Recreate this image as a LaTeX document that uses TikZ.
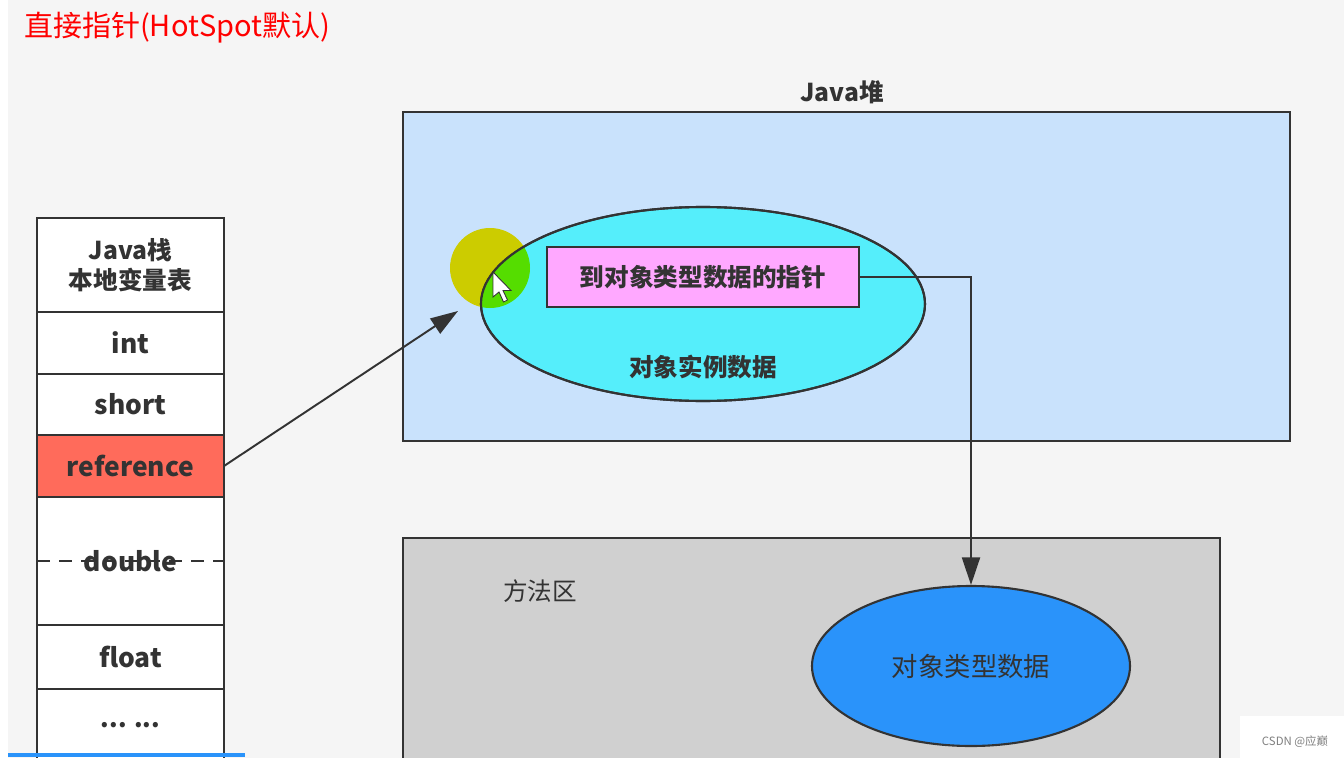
\documentclass[tikz,border=0pt]{standalone}
\usepackage{fontspec}
\setmainfont{Noto Sans CJK SC}
\usepackage{tikz}
\usetikzlibrary{positioning}
\usetikzlibrary{arrows.meta}
\usetikzlibrary{shapes.geometric}
\usepackage{xcolor}

\definecolor{bgcol}{HTML}{F5F5F5}
\definecolor{heapcol}{HTML}{C9E2FC}
\definecolor{objcol}{HTML}{55EEFB}
\definecolor{ptrcol}{HTML}{FFA8FF}
\definecolor{refcol}{HTML}{FF6B5B}
\definecolor{methcol}{HTML}{D0D0D0}
\definecolor{klasscol}{HTML}{2A93FA}
\definecolor{ink}{HTML}{333333}
\definecolor{spotyel}{HTML}{CCCC00}
\definecolor{spotgrn}{HTML}{55DD00}

\begin{document}
\begin{tikzpicture}[
  txt/.style={text=ink, font=\fontsize{14}{16}\selectfont\bfseries},
  cell/.style={draw=ink, line width=1.2pt, fill=white, minimum width=3.74cm, outer sep=0pt, inner sep=0pt, align=center, txt, font=\fontsize{15}{18}\selectfont\bfseries},
  area/.style={draw=ink, line width=1.2pt},
  link/.style={draw=ink, line width=1.1pt, -{Triangle[length=5.5mm, width=3.6mm]}}
]

\useasboundingbox (0,0) rectangle (26.88,-15.16);
\clip (0,0) rectangle (26.88,-15.16);
\fill[bgcol] (0,0) rectangle (26.88,-15.16);
\fill[white] (0,0) rectangle (0.16,-15.16);

% title
\node[anchor=west, text=red, font=\fontsize{16.5}{19}\selectfont] (title) at (0.36,-0.56) {直接指针(HotSpot默认)};

% Java heap
\node[txt] (heaplbl) at (16.84,-1.84) {Java堆};
\fill[heapcol] (8.06,-2.24) rectangle (25.8,-8.82);
\draw[area] (8.06,-2.24) rectangle (25.8,-8.82);

\fill[spotyel] (9.8,-5.36) circle [radius=0.8];
\draw[area, fill=objcol] (14.06,-6.08) ellipse [x radius=4.44, y radius=1.94];
\begin{scope}
\clip (14.06,-6.08) ellipse [x radius=4.44, y radius=1.94];
\fill[spotgrn] (9.8,-5.36) circle [radius=0.8];
\end{scope}
\draw[area] (14.06,-6.08) ellipse [x radius=4.44, y radius=1.94];
\node[txt] (objlbl) at (14.06,-7.34) {对象实例数据};

\node[area, fill=ptrcol, minimum width=6.24cm, minimum height=1.2cm, inner sep=0pt, txt] (ptr) at (14.06,-5.54) {到对象类型数据的指针};

% mouse pointer
\draw[ink, fill=white, line width=0.5pt] (9.86,-5.44) -- ++(0,-0.5) -- ++(0.12,0.1) -- ++(0.09,-0.2) -- ++(0.08,0.04) -- ++(-0.09,0.19) -- ++(0.16,0) -- cycle;

% method area
\fill[methcol] (8.06,-10.76) rectangle (24.4,-15.6);
\draw[area] (8.06,-15.6) -- (8.06,-10.76) -- (24.4,-10.76) -- (24.4,-15.6);
\node[txt, font=\fontsize{14}{16}\selectfont] (methlbl) at (10.8,-11.82) {方法区};
\node[area, fill=klasscol, shape=ellipse, minimum width=6.36cm, minimum height=3.2cm, inner sep=0pt, txt, font=\fontsize{15}{17}\selectfont] (klass) at (19.42,-13.32) {对象类型数据};

% Java stack
\node[cell, minimum height=1.88cm, font=\fontsize{14}{17}\selectfont\bfseries] (hdr) at (2.61,-5.3) {Java栈\\本地变量表};
\node[cell, minimum height=1.24cm, below=0pt of hdr] (vint) {int};
\node[cell, minimum height=1.22cm, below=0pt of vint] (vshort) {short};
\node[cell, minimum height=1.24cm, below=0pt of vshort, fill=refcol] (vref) {reference};
\node[cell, minimum height=2.56cm, below=0pt of vref] (vdbl) {};
\draw[ink, line width=1.2pt, dash pattern=on 2.6mm off 1.8mm] (vdbl.west) -- (vdbl.east);
\node[txt, font=\fontsize{15}{18}\selectfont\bfseries] (dbllbl) at (vdbl.center) {double};
\node[cell, minimum height=1.28cm, below=0pt of vdbl] (vflt) {float};
\node[cell, minimum height=1.6cm, below=0pt of vflt] (vdots) {};
\node[txt] (dotslbl) at (2.61,-14.5) {... ...};

% arrows
\coordinate (spot) at (9.16,-6.22);
\draw[link] (vref.east) -- (spot);
\draw[link] (ptr.east) -| (klass.north);

% player bits
\draw[klasscol, line width=2pt] (0.16,-15.1) -- (4.9,-15.1);
\fill[white] (24.8,-14.32) rectangle (26.88,-15.16);
\node[text=gray, font=\fontsize{6.5}{8}\selectfont] (mark) at (25.9,-14.84) {CSDN @应巅};

\end{tikzpicture}
\end{document}
